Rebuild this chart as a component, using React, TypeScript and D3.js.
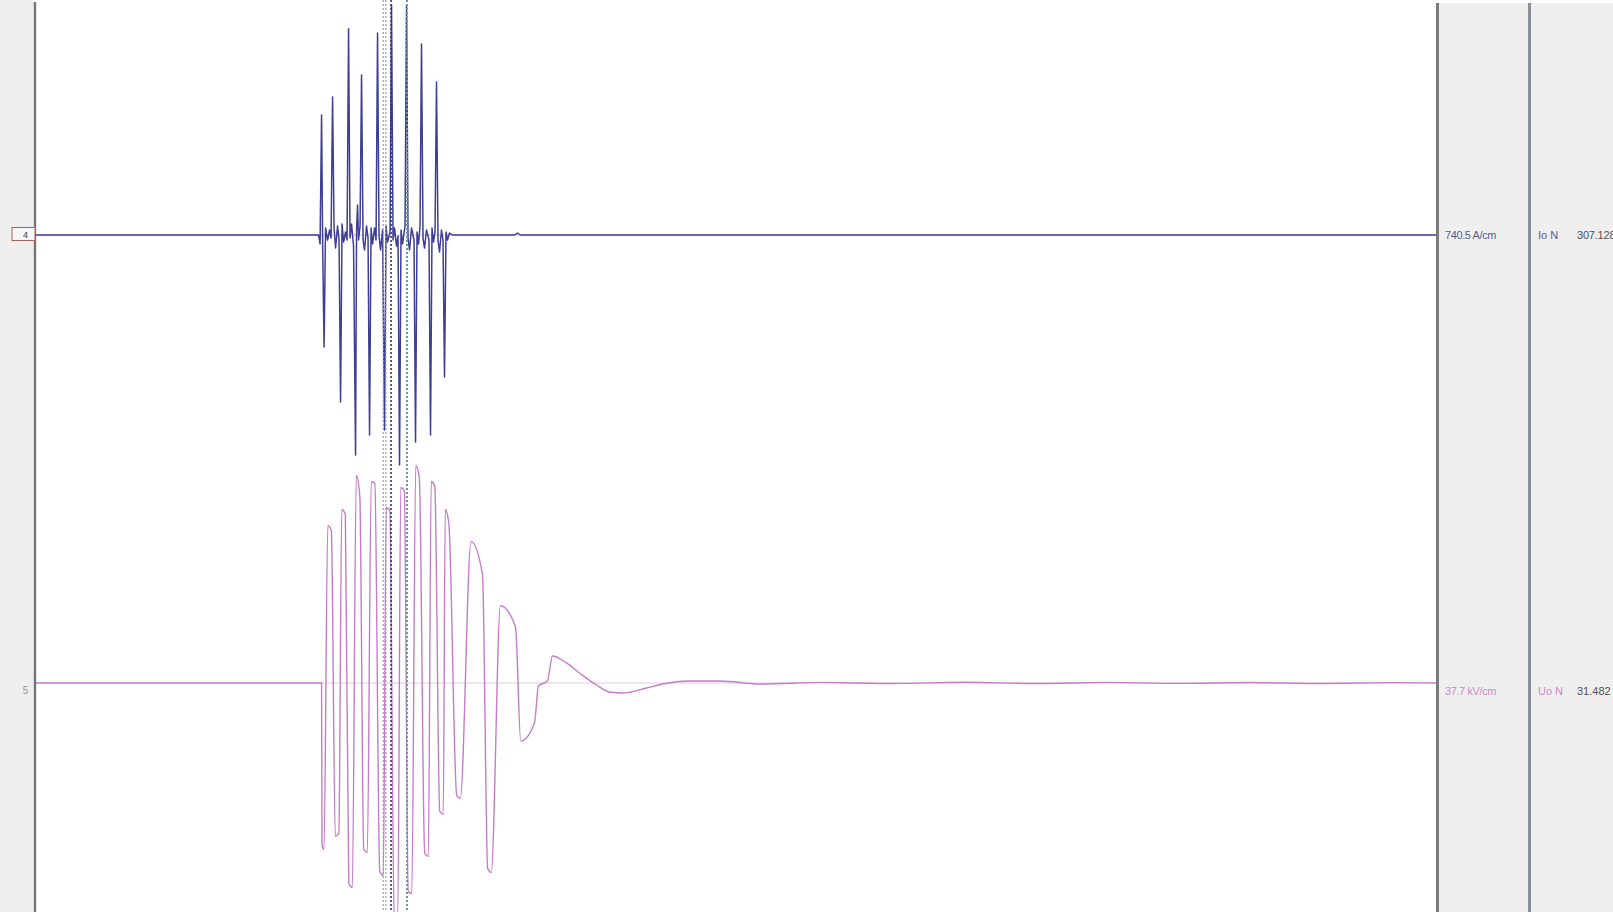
import React from "react";
import * as d3 from "d3";

const W = 1613;
const H = 912;

// Time axis in ms, fault inception at t = 0
const timeDomain: [number, number] = [-400, 1561];

// Channel 4 – Io N residual current (A)
const ioTime = [
  -400, -4.2, -2.1, 0, 1.4, 3.5, 5.6, 8.4, 11.2, 13.3, 15.4, 17.5, 19.6, 22.4, 24.5, 26.6,
  28.7, 30.8, 33.6, 35.7, 37.8, 39.9, 42, 44.8, 47.6, 49, 50.4, 51.8, 53.9, 56, 58.1, 60.2,
  63, 65.1, 67.2, 69.3, 71.4, 74.2, 76.3, 78.4, 80.5, 82.6, 85.4, 88.2, 90.3, 92.4, 95.9,
  98, 100.1, 102.2, 105, 107.1, 109.2, 111.3, 113.4, 116.9, 119, 121.1, 123.2, 126, 129.5,
  131.6, 133.7, 135.8, 137.9, 140, 142.1, 144.2, 147, 150.5, 152.6, 154.7, 156.8, 158.9,
  161, 163.1, 165.2, 168, 170.1, 172.2, 174.3, 176.4, 179.2, 183.4, 270.2, 274.4, 278.6, 1561,
];
const ioAmps = [
  0, 0, -176, 2352, -20, -2195, 137, -98, 98, -59, 2705, 137, -255, 176, -98, -3273,
  216, -137, 59, -98, 4038, -59, 216, -216, -4312, 98, 588, -98, 176, 3136, -98, -294,
  176, -59, -3920, 137, -176, 137, -98, 3959, -20, -294, 98, -3822, 176, -137, 59,
  4508, -98, 137, -216, -20, -4508, 98, -176, 176, 4508, -59, -294, 137, -98,
  -4057, 59, -176, 176, 3744, -59, -255, 98, -98, -3920, 137, -137, 59,
  2999, -98, -333, 98, -98, -2783, 59, -98, 39, 0, 0, 39, 0, 0,
];

// Channel 5 – Uo N residual voltage (kV); each crest/trough is held for a few ms
const uoTime = [
  -400, 0, 0.6, 3.4, 8.7, 13.7, 19.2, 24.2, 28.3, 33.3, 38.1, 43.1, 48.6, 53.6, 59.1, 64.1,
  69.6, 74.6, 81.5, 86.5, 90.6, 95.6, 101.8, 106.8, 110.9, 115.9, 121.4, 126.4, 131.9, 136.9,
  144.5, 149.5, 153.6, 158.6, 165.5, 170.5, 173.2, 178.2, 189.3, 194.3, 209.4, 225.4, 232.7,
  237.7, 250.5, 271.6, 279, 298.2, 303.8, 316.4, 323.4, 343, 361.2, 385, 403.2, 421.4, 455,
  477.4, 515.2, 557.2, 616.8, 700, 800, 900, 1000, 1100, 1200, 1300, 1400, 1500, 1561,
];
const uoKv = [
  0, 0, -162, -166, 157, 152, -153, -150, 173, 168, -200, -204, 207, 186, -166, -169,
  201, 199, -188, -192, 175, 172, -230, -232, 195, 192, -208, -210, 217, 205,
  -170, -173, 201, 196, -128, -131, 173, 160, -112, -115, 141, 108, -185,
  -189, 77, 56, -58, -40, -3, 2, 27, 20, 10, -2, -9, -10, -5,
  -1, 2, 2, -1, 0.6, -0.5, 0.8, -0.5, 0.6, -0.4, 0.5, -0.5, 0.4, 0,
];

// Cursor positions (ms)
const cursorTimes = [88.2, 97.3, 119.7];

const channels = [
  { id: "4", unit: "740.5 A/cm", name: "Io N", reading: "307.128", perCm: 740.5, base: 235 },
  { id: "5", unit: "37.7 kV/cm", name: "Uo N", reading: "31.482", perCm: 37.7, base: 683 },
];

const PX_PER_CM = 37.8;
const PLOT_L = 36;
const PLOT_R = 1436;

const font = "'Liberation Sans', Arial, sans-serif";

export default function App() {
  const x = d3.scaleLinear().domain(timeDomain).range([PLOT_L, PLOT_R]);
  const [ch4, ch5] = channels;
  const y4 = d3.scaleLinear().domain([0, ch4.perCm]).range([ch4.base, ch4.base - PX_PER_CM]);
  const y5 = d3.scaleLinear().domain([0, ch5.perCm]).range([ch5.base, ch5.base - PX_PER_CM]);

  const ioPath = d3
    .line<number>()
    .x((_, i) => x(ioTime[i]))
    .y((d) => y4(d))
    .curve(d3.curveLinear)(ioAmps) as string;

  const uoPath = d3
    .line<number>()
    .x((_, i) => x(uoTime[i]))
    .y((d) => y5(d))
    .curve(d3.curveMonotoneX)(uoKv) as string;

  return (
    <svg
      width={W}
      height={H}
      style={{ position: "absolute", left: 0, top: 0, background: "#ffffff" }}
    >
      <defs>
        <clipPath id="plot">
          <rect x={PLOT_L} y={0} width={PLOT_R - PLOT_L} height={H} />
        </clipPath>
      </defs>

      {/* left label strip */}
      <rect x={0} y={0} width={34} height={H} fill="#efefef" />
      <line x1={35} x2={35} y1={2} y2={H} stroke="#767676" strokeWidth={2.4} />

      {/* right info panel */}
      <rect x={1437} y={3} width={W - 1437} height={H} fill="#efefef" />
      <line x1={1437.5} x2={1437.5} y1={3} y2={H} stroke="#7a7a7a" strokeWidth={3} />
      <line x1={1529.5} x2={1529.5} y1={3} y2={H} stroke="#8a9096" strokeWidth={3} />

      {/* zero reference lines */}
      <line x1={PLOT_L} x2={PLOT_R} y1={y5(0)} y2={y5(0)} stroke="#e4c8e4" strokeWidth={1} />
      <line x1={PLOT_L} x2={PLOT_R} y1={y4(0)} y2={y4(0)} stroke="#c8c8e0" strokeWidth={1} />

      <g clipPath="url(#plot)">
        <path d={uoPath} fill="none" stroke="#c47cc8" strokeWidth={1.4} strokeLinejoin="round" />
        <path d={ioPath} fill="none" stroke="#3e3e96" strokeWidth={1.5} strokeLinejoin="round" />
      </g>

      {/* cursors */}
      <line x1={x(cursorTimes[0]) - 1.3} x2={x(cursorTimes[0]) - 1.3} y1={0} y2={H}
        stroke="#9a9aaa" strokeWidth={1.2} strokeDasharray="2,2" />
      <line x1={x(cursorTimes[0]) + 1.3} x2={x(cursorTimes[0]) + 1.3} y1={0} y2={H}
        stroke="#9a9aaa" strokeWidth={1.2} strokeDasharray="2,2" />
      <line x1={x(cursorTimes[1])} x2={x(cursorTimes[1])} y1={0} y2={H}
        stroke="#34346e" strokeWidth={1.6} strokeDasharray="2,2" />
      <line x1={x(cursorTimes[2])} x2={x(cursorTimes[2])} y1={0} y2={H}
        stroke="#6a9a9e" strokeWidth={2} strokeDasharray="2,2" />

      {/* channel ids */}
      <rect x={12} y={227.5} width={23} height={13} fill="#f6f6f6" stroke="#a86060" strokeWidth={1} />
      <text x={25.5} y={238} fontFamily={font} fontSize={9} fill="#404050" textAnchor="middle">
        {ch4.id}
      </text>
      <text x={25.5} y={694} fontFamily={font} fontSize={10} fill="#a888a8" textAnchor="middle">
        {ch5.id}
      </text>

      {/* channel readouts */}
      <g fontFamily={font} fontSize={11}>
        <text x={1445} y={239} fill="#5a5a90" letterSpacing={-0.4}>{ch4.unit}</text>
        <text x={1538} y={239} fill="#5a5a90">{ch4.name}</text>
        <text x={1577} y={239} fill="#505050" letterSpacing={-0.2}>{ch4.reading}</text>

        <text x={1445} y={695} fill="#cc88cc" letterSpacing={-0.4}>{ch5.unit}</text>
        <text x={1538} y={695} fill="#cc88cc">{ch5.name}</text>
        <text x={1577} y={695} fill="#505050">{ch5.reading}</text>
      </g>
    </svg>
  );
}
